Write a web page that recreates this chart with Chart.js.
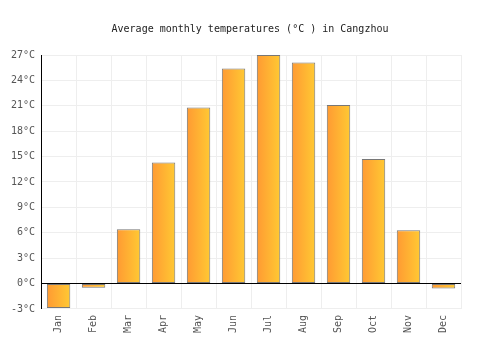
<!DOCTYPE html>
<html>
<head>
<meta charset="utf-8">
<script src="https://cdn.jsdelivr.net/npm/chart.js@4/dist/chart.umd.min.js"></script>
<style>
  html, body { margin: 0; padding: 0; background: #fff; }
  #wrap { width: 500px; height: 350px; }
</style>
</head>
<body>
<div id="wrap"><canvas id="chart_bar"></canvas></div>
<script>
var meses = ["Jan", "Feb", "Mar", "Apr", "May", "Jun", "Jul", "Aug", "Sep", "Oct", "Nov", "Dec"];
var temperaturas = [-2.9, -0.5, 6.4, 14.3, 20.8, 25.4, 27.0, 26.1, 21.1, 14.7, 6.3, -0.6];
var tickMin = -3;
var tickMax = 27;
var tickStep = 3;
var titulo = "Average monthly temperatures (°C ) in Cangzhou";

var fuente = "'DejaVu Sans Mono', monospace";

function gradienteBarra(ctx) {
    var chart = ctx.chart;
    if (!chart.chartArea) return "#ffb233";
    var escala = chart.scales.x;
    var x = escala.getPixelForValue(ctx.dataIndex);
    var medio = (escala.width / meses.length) * 0.67 / 2;
    var g = chart.ctx.createLinearGradient(x - medio, 0, x + medio, 0);
    g.addColorStop(0, "#ff9a33");
    g.addColorStop(1, "#ffc933");
    return g;
}

// titulo centrado en todo el canvas (el de Chart.js se centra en el area con padding)
var tituloPlugin = {
    id: "tituloCentrado",
    afterDraw: function(chart) {
        var c = chart.ctx;
        c.save();
        c.font = "10px " + fuente;
        c.fillStyle = "#222";
        c.textAlign = "center";
        c.textBaseline = "middle";
        c.fillText(titulo, chart.width / 2, 29);
        c.restore();
    }
};

var canvas = document.getElementById('chart_bar').getContext('2d');
window.bar = new Chart(canvas, {
    type: "bar",
    data: {
        labels: meses,
        datasets: [{
            data: temperaturas,
            backgroundColor: gradienteBarra,
            borderColor: "#777777",
            borderWidth: 1,
            borderSkipped: false,
            barPercentage: 0.67,
            categoryPercentage: 1
        }]
    },
    plugins: [tituloPlugin],
    options: {
        responsive: true,
        maintainAspectRatio: false,
        animation: false,
        layout: { padding: { top: 55, right: 39, left: 5, bottom: 11 } },
        plugins: {
            legend: { display: false },
            tooltip: { enabled: false },
            title: { display: false }
        },
        scales: {
            x: {
                grid: {
                    color: "#eeeeee",
                    drawTicks: false,
                    offset: true
                },
                border: { display: false },
                ticks: {
                    color: "#555",
                    font: { family: fuente, size: 10 },
                    maxRotation: 90,
                    minRotation: 90,
                    padding: 6
                }
            },
            y: {
                min: tickMin,
                max: tickMax,
                grid: {
                    drawTicks: false,
                    color: function(c) { return c.tick && c.tick.value === 0 ? "#000000" : "#eeeeee"; },
                    lineWidth: 1
                },
                border: { display: true, color: "#000000", width: 1 },
                ticks: {
                    stepSize: tickStep,
                    color: "#555",
                    font: { family: fuente, size: 10 },
                    padding: 6,
                    callback: function(v) { return v + "°C"; }
                }
            }
        }
    }
});
</script>
</body>
</html>
